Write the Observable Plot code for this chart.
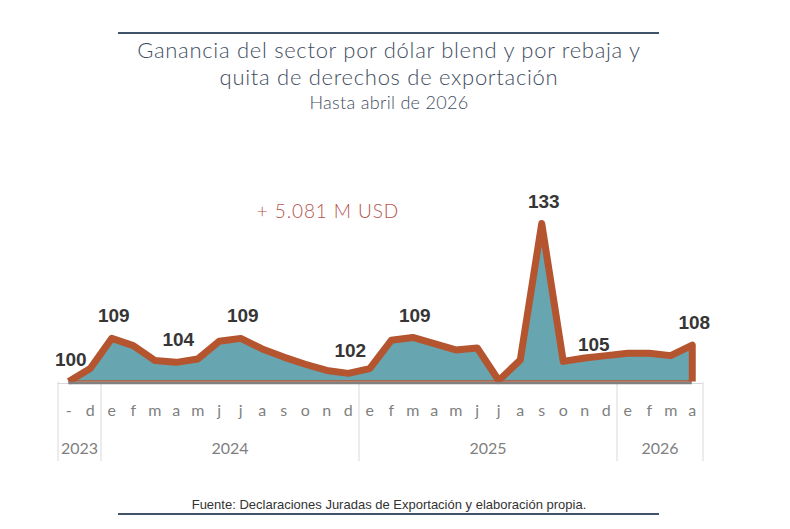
<!DOCTYPE html>
<html><head><meta charset="utf-8">
<script src="https://cdn.jsdelivr.net/npm/d3@7"></script>
<script src="https://cdn.jsdelivr.net/npm/@observablehq/plot@0.6"></script>
<style>
body{margin:0;background:#fff;}
#wrap{position:relative;width:790px;height:529px;overflow:hidden;font-family:Lato,sans-serif;background:#fff;}
#chart{position:absolute;left:0;top:0;}
.rule{position:absolute;left:118px;width:541px;height:2px;background:#3f5468;}
#title{position:absolute;left:0;width:778px;top:36px;text-align:center;color:#3f4e5f;font-size:22px;line-height:27px;font-weight:300;letter-spacing:0.7px;}
#sub{position:absolute;left:0;width:778px;top:91px;text-align:center;color:#3f4e5f;font-size:18px;font-weight:300;letter-spacing:0.3px;}
#ann{position:absolute;left:228px;width:200px;top:199px;text-align:center;color:#b5534c;font-size:19px;font-weight:300;letter-spacing:0.9px;}
#cap{position:absolute;left:0;width:778px;top:497px;text-align:center;color:#333;font-size:13px;font-family:"Liberation Sans Narrow","Liberation Sans",sans-serif;}
</style>
</head><body>
<div id="wrap">
  <div id="chart"></div>
  <div class="rule" style="top:32px"></div>
  <div id="title">Ganancia del sector por dólar blend y por rebaja y<br>quita de derechos de exportación</div>
  <div id="sub">Hasta abril de 2026</div>
  <div id="ann">+ 5.081 M USD</div>
  <div id="cap">Fuente: Declaraciones Juradas de Exportación y elaboración propia.</div>
  <div class="rule" style="top:513px"></div>
</div>
<script>
const months = ["-","d","e","f","m","a","m","j","j","a","s","o","n","d","e","f","m","a","m","j","j","a","s","o","n","d","e","f","m","a"];
const values = [100,102.7,109,107.5,104.4,104,104.7,108.4,109,106.8,105.1,103.6,102.3,101.7,102.7,108.6,109.2,107.9,106.6,107,100.2,104.5,133,104.2,104.9,105.4,105.9,105.9,105.4,107.6];
const years = ["2023","2024","2025","2026"];
const yearStart = [0,2,14,26];
const yearEnd = [1,13,25,29];
const labeled = [0,2,5,8,13,16,22,29];
const labeledLow = [24];
const base = 100;

const W = 790, H = 529, mTop = 213.4, mBottom = 148;
const plotH = H - mTop - mBottom;
const idx = values.map((v, i) => i);
const outline = values.map((v, i) => ({i, v})).concat([{i: values.length - 1, v: base}]);
const bounds = yearStart.map(s => s - 0.5).concat([yearEnd[yearEnd.length - 1] + 0.5]);
const yearMid = years.map((y, k) => ({y, x: (yearStart[k] + yearEnd[k]) / 2}));

const chart = Plot.plot({
  width: W, height: H,
  marginLeft: 57.5, marginRight: 87.5, marginTop: mTop, marginBottom: mBottom,
  x: {type: "linear", domain: [bounds[0], bounds[bounds.length - 1]], axis: null},
  y: {domain: [base, 135], axis: null},
  marks: [
    Plot.ruleX(bounds, {x: d => d, stroke: "#d9d9d9", strokeWidth: 1, insetTop: plotH + 1, insetBottom: -80}),
    Plot.ruleY([base], {x1: bounds[0], x2: bounds[bounds.length - 1], stroke: "#d9d9d9", strokeWidth: 1, dy: 2}),
    Plot.areaY(idx, {x: i => i, y1: () => base, y2: i => values[i], fill: "#67a6b0"}),
    Plot.line(outline, {x: "i", y: "v", stroke: "#b4552f", strokeWidth: 7, strokeLinejoin: "round", strokeLinecap: "butt"}),
    Plot.ruleY([base], {x1: 0, x2: values.length - 1, stroke: "#b4552f", strokeWidth: 1.5, dy: -0.5}),
    Plot.ruleY([base], {x1: 0, x2: values.length - 1, stroke: "#808080", strokeWidth: 2.5, dy: 1.5}),
    Plot.text(labeled, {x: i => i, y: i => values[i], text: i => String(Math.round(values[i])), dx: 2, dy: -22, fontSize: 19, fontWeight: "bold", fill: "#363636", fontFamily: "Liberation Sans, Arial, sans-serif"}),
    Plot.text(labeledLow, {x: i => i, y: i => values[i], text: i => String(Math.round(values[i])), dx: 9, dy: -13, fontSize: 19, fontWeight: "bold", fill: "#363636", fontFamily: "Liberation Sans, Arial, sans-serif"}),
    Plot.text(idx, {x: i => i, y: () => base, text: i => months[i], dy: 29, fontSize: 16, fill: "#7f7f7f", fontFamily: "Lato, sans-serif"}),
    Plot.text(yearMid, {x: "x", y: () => base, text: "y", dy: 67, fontSize: 16, fill: "#7f7f7f", fontFamily: "Lato, sans-serif"})
  ]
});
document.getElementById("chart").appendChild(chart);
</script>
</body></html>
